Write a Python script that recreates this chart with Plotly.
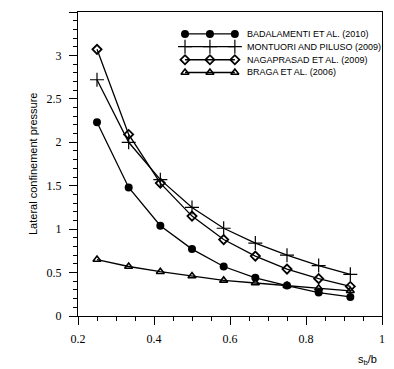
import plotly.graph_objects as go

# ---- data ----
x_vals = [3/12, 4/12, 5/12, 6/12, 7/12, 8/12, 9/12, 10/12, 11/12]
badalamenti = [2.23, 1.48, 1.04, 0.77, 0.57, 0.44, 0.35, 0.27, 0.22]
montuori = [2.72, 2.00, 1.57, 1.25, 1.01, 0.84, 0.70, 0.58, 0.48]
nagaprasad = [3.07, 2.09, 1.53, 1.15, 0.88, 0.69, 0.54, 0.43, 0.34]
braga = [0.65, 0.57, 0.51, 0.46, 0.41, 0.38, 0.35, 0.32, 0.29]

names = ["BADALAMENTI ET AL. (2010)", "MONTUORI AND PILUSO (2009)",
         "NAGAPRASAD ET AL. (2009)", "BRAGA ET AL. (2006)"]
x_ticks = [0.2, 0.4, 0.6, 0.8, 1.0]
x_ticktext = ["0.2", "0.4", "0.6", "0.8", "1"]

# ---- styles ----
SANS = "Liberation Sans, Arial, sans-serif"
SERIF = "Liberation Serif, Times New Roman, serif"
line = dict(color="black", width=1.3)
markers = [
    dict(symbol="circle", size=8, color="black"),
    dict(symbol="cross-thin", size=10, line=dict(color="black", width=1.2)),
    dict(symbol="diamond-open", size=7, color="black", line=dict(color="black", width=1.8)),
    dict(symbol="triangle-up-open", size=7, color="black", line=dict(color="black", width=1.6)),
]
series = [badalamenti, montuori, nagaprasad, braga]

fig = go.Figure()
for name, ys, mk in zip(names, series, markers):
    fig.add_trace(go.Scatter(x=x_vals, y=ys, name=name, mode="lines+markers",
                             line=line, marker=mk, showlegend=False))

# ---- custom legend (overlay axes in plot-area fraction units) ----
leg_x = [0.352, 0.434, 0.516]
leg_rows = [0.928, 0.886, 0.843, 0.801]
leg_text_x = 0.548
for name, mk, ry in zip(names, markers, leg_rows):
    fig.add_trace(go.Scatter(x=leg_x, y=[ry] * 3, mode="lines+markers", line=line,
                             marker=mk, xaxis="x2", yaxis="y2", showlegend=False,
                             hoverinfo="skip"))
    fig.add_annotation(text=name, xref="paper", yref="paper", x=leg_text_x, y=ry,
                       xanchor="left", yanchor="middle", showarrow=False,
                       font=dict(family=SANS, size=9, color="black"))

# page body has an 8px margin: figure is 8px smaller so it fits the window
fig.update_layout(
    width=386, height=361,
    margin=dict(l=70, r=12, t=4, b=53),
    paper_bgcolor="white", plot_bgcolor="white",
    showlegend=False,
    font=dict(family=SERIF, size=12, color="black"),
    xaxis2=dict(overlaying="x", range=[0, 1], visible=False, fixedrange=True),
    yaxis2=dict(overlaying="y", range=[0, 1], visible=False, fixedrange=True),
)
fig.update_layout(xaxis=dict(
    range=[0.2, 1.0], tickvals=x_ticks, ticktext=x_ticktext, showline=True,
    linecolor="black", linewidth=1.2, mirror=True, ticks="outside", ticklen=8,
    tickcolor="black", showgrid=False, zeroline=False, automargin=False,
    tickfont=dict(family=SERIF, size=12), ticklabelstandoff=3,
    minor=dict(dtick=0.05, tick0=0.2, ticks="outside", ticklen=4, tickcolor="black")))
fig.update_layout(yaxis=dict(
    range=[0, 3.5], dtick=0.5, showline=True, linecolor="black",
    linewidth=1.2, mirror=True, ticks="outside", ticklen=8, tickcolor="black",
    showgrid=False, zeroline=False, automargin=False,
    tickfont=dict(family=SERIF, size=12), ticklabelstandoff=5,
    minor=dict(dtick=0.1, ticks="outside", ticklen=4, tickcolor="black")))
fig.add_annotation(text="Lateral confinement pressure", textangle=-90,
                   xref="paper", yref="paper", x=-0.148, y=0.5,
                   xanchor="center", yanchor="middle", showarrow=False,
                   font=dict(family=SANS, size=11, color="black"))
fig.add_annotation(text="s<sub>b</sub>/b", xref="paper", yref="paper", x=0.951, y=-0.145,
                   xanchor="center", yanchor="middle", showarrow=False,
                   font=dict(family=SANS, size=11, color="black"))

fig.write_html("out.html")
